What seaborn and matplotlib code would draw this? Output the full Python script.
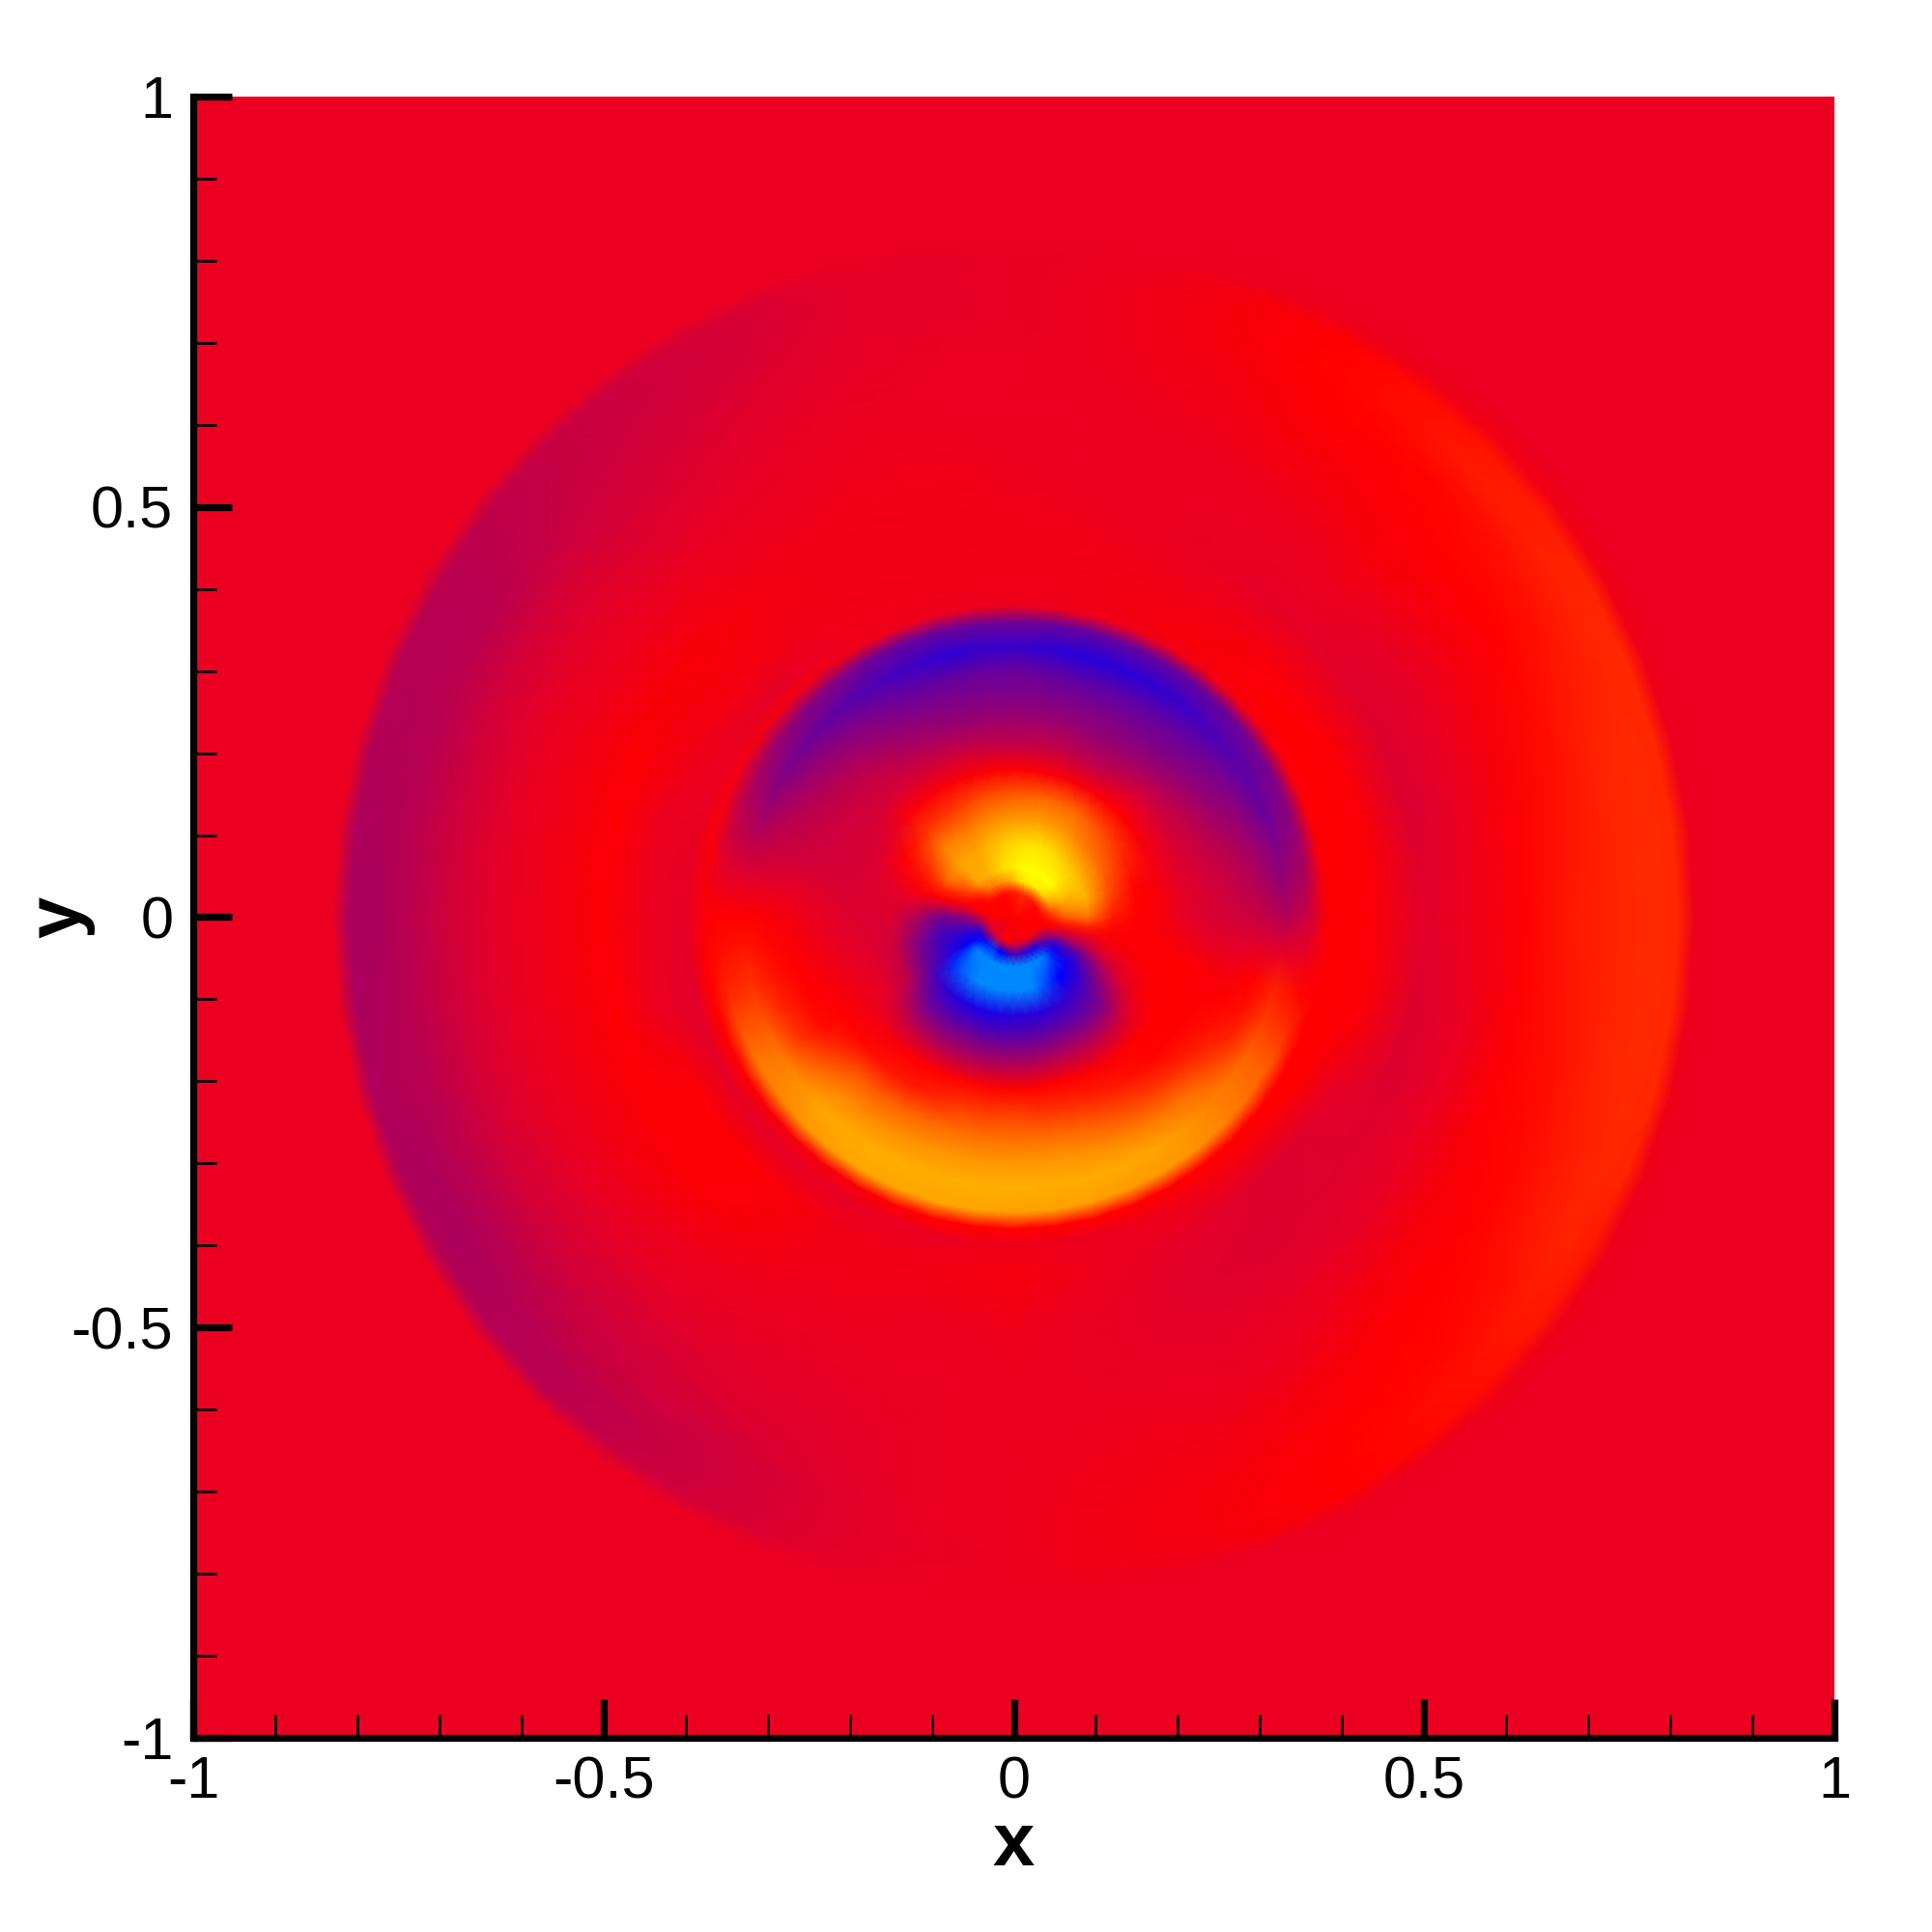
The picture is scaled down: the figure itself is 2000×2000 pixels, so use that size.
import matplotlib.pyplot as plt
import numpy as np
import seaborn as sns

# radii of the polar sampling, rows of every angle list below
radii = [0, .03, .06, .09, .12, .15, .18, .21, .24, .27, .30, .33, .36, .38, .40,
         .44, .50, .56, .62, .68, .74, .78, .81, .83, .86, 1.45]
angles = [0, 7.5, 15, 22.5, 30, 37.5, 45, 52.5, 60, 67.5, 75, 82.5,
          90, 97.5, 105, 112.5, 120, 127.5, 135, 142.5, 150, 157.5, 165, 172.5,
          180, 187.5, 195, 202.5, 210, 217.5, 225, 232.5, 240, 247.5, 255, 262.5,
          270, 277.5, 285, 292.5, 300, 307.5, 315, 322.5, 330, 337.5, 345, 352.5]

# field values, one list per angle
a000 = [0, 0, .7, .9, .2, 0, -.03, -.1, -.15, -.18, -.22, -.3, -.2, -.02, 0,
        -.02, -.12, -.06, -.01, .2, .3, .33, .3, -.07, -.08, -.08]
a007 = [0, .02, 1.0, 1.2, .4, .02, -.03, -.11, -.16, -.22, -.3, -.42, -.3, -.02, 0,
        -.02, -.13, -.07, -.01, .16, .3, .33, .3, -.07, -.08, -.08]
a015 = [0, .05, 1.2, 1.4, .6, .05, -.04, -.12, -.18, -.25, -.35, -.5, -.38, -.02, 0,
        -.02, -.15, -.08, -.02, .12, .28, .33, .3, -.07, -.08, -.08]
a022 = [0, .08, 1.5, 1.45, .72, .2, -.04, -.13, -.22, -.32, -.42, -.58, -.45, -.02, 0,
        -.02, -.14, -.09, -.03, .06, .22, .3, .3, -.06, -.08, -.08]
a030 = [0, .1, 1.7, 1.5, .85, .35, -.03, -.15, -.25, -.38, -.48, -.62, -.52, -.03, 0,
        -.02, -.13, -.1, -.04, 0, .15, .28, .28, -.05, -.08, -.08]
a037 = [0, .15, 1.9, 1.55, .92, .48, -.02, -.15, -.29, -.43, -.53, -.67, -.55, -.04, 0,
        -.03, -.12, -.09, -.04, 0, .1, .24, .22, -.05, -.08, -.08]
a045 = [0, .2, 2, 1.6, 1.0, .6, 0, -.15, -.33, -.48, -.58, -.72, -.58, -.04, -.01,
        -.03, -.1, -.07, -.03, -.01, .05, .2, .15, -.05, -.08, -.08]
a052 = [0, .25, 2, 1.68, 1.1, .7, -.01, -.2, -.37, -.5, -.6, -.78, -.6, -.05, -.02,
        -.04, -.1, -.08, -.05, -.02, .02, .1, .07, -.06, -.08, -.08]
a060 = [0, .3, 2, 1.75, 1.2, .8, -.03, -.25, -.4, -.5, -.62, -.82, -.6, -.05, -.03,
        -.05, -.09, -.08, -.06, -.03, 0, .02, 0, -.06, -.08, -.08]
a067 = [0, .32, 2, 1.78, 1.22, .8, -.02, -.24, -.4, -.5, -.63, -.84, -.6, -.06, -.04,
        -.05, -.08, -.08, -.07, -.05, -.03, -.02, -.03, -.07, -.08, -.08]
a075 = [0, .3, 2, 1.8, 1.25, .8, -.02, -.22, -.38, -.5, -.63, -.85, -.6, -.06, -.05,
        -.05, -.07, -.08, -.07, -.06, -.05, -.05, -.06, -.08, -.08, -.08]
a082 = [0, .25, 1.95, 1.75, 1.22, .75, -.01, -.23, -.38, -.5, -.6, -.82, -.58, -.07, -.06,
        -.05, -.06, -.08, -.08, -.07, -.07, -.07, -.08, -.08, -.08, -.08]
a090 = [0, .2, 1.85, 1.7, 1.2, .7, -.01, -.24, -.38, -.5, -.58, -.78, -.55, -.07, -.06,
        -.05, -.06, -.07, -.08, -.08, -.09, -.09, -.09, -.08, -.08, -.08]
a097 = [0, .15, 1.8, 1.6, 1.15, .65, -.01, -.22, -.38, -.5, -.58, -.8, -.57, -.07, -.06,
        -.05, -.05, -.06, -.08, -.08, -.1, -.1, -.1, -.08, -.08, -.08]
a105 = [0, .1, 1.7, 1.5, 1.1, .6, -.02, -.2, -.38, -.5, -.6, -.82, -.58, -.07, -.06,
        -.05, -.05, -.06, -.07, -.09, -.1, -.11, -.1, -.08, -.08, -.08]
a112 = [0, .05, 1.55, 1.4, 1.02, .52, -.02, -.19, -.36, -.48, -.6, -.76, -.58, -.06, -.06,
        -.05, -.05, -.06, -.08, -.1, -.13, -.15, -.14, -.08, -.08, -.08]
a120 = [0, .02, 1.4, 1.3, .95, .45, -.02, -.18, -.33, -.45, -.56, -.7, -.56, -.06, -.06,
        -.05, -.05, -.07, -.09, -.12, -.16, -.18, -.17, -.08, -.08, -.08]
a127 = [0, 0, 1.35, 1.3, 1.0, .42, -.02, -.17, -.27, -.4, -.5, -.65, -.5, -.06, -.08,
        -.05, -.04, -.07, -.1, -.14, -.18, -.2, -.2, -.08, -.08, -.08]
a135 = [0, 0, 1.3, 1.3, 1.0, .4, -.02, -.16, -.22, -.33, -.45, -.6, -.45, -.05, -.1,
        -.04, -.03, -.06, -.11, -.16, -.2, -.22, -.22, -.08, -.08, -.08]
a142 = [0, 0, .9, 1.1, .7, .2, -.08, -.17, -.21, -.29, -.4, -.54, -.4, -.05, -.09,
        -.04, -.02, -.06, -.1, -.16, -.24, -.25, -.25, -.08, -.08, -.08]
a150 = [0, 0, .5, .9, .35, .05, -.13, -.17, -.2, -.25, -.35, -.48, -.33, -.05, -.08,
        -.05, -.02, -.06, -.1, -.17, -.27, -.28, -.27, -.08, -.08, -.08]
a157 = [0, 0, .2, .4, .1, -.04, -.14, -.17, -.19, -.22, -.27, -.38, -.26, -.04, -.08,
        -.06, -.01, -.05, -.09, -.17, -.27, -.29, -.29, -.08, -.08, -.08]
a165 = [0, -.01, -.03, 0, -.03, -.1, -.14, -.16, -.17, -.18, -.2, -.24, -.18, -.03, -.09,
        -.08, -.01, -.05, -.09, -.18, -.28, -.3, -.3, -.08, -.08, -.08]
a172 = [0, 0, -.2, -.25, -.15, -.12, -.14, -.14, -.12, -.1, -.1, -.1, -.08, -.03, -.1,
        -.08, -.01, -.05, -.09, -.17, -.27, -.32, -.32, -.08, -.08, -.08]
a180 = [0, 0, -.45, -.55, -.3, -.14, -.14, -.12, -.08, -.04, -.02, 0, 0, -.03, -.1,
        -.08, -.01, -.05, -.09, -.17, -.27, -.33, -.33, -.08, -.08, -.08]
a187 = [0, -.05, -.6, -.65, -.4, -.17, -.13, -.1, -.06, -.02, .05, .2, .12, -.01, -.11,
        -.08, -.01, -.05, -.09, -.17, -.27, -.31, -.33, -.08, -.08, -.08]
a195 = [0, -.1, -.75, -.75, -.5, -.2, -.12, -.08, -.04, 0, .15, .4, .3, 0, -.12,
        -.08, -.01, -.05, -.09, -.17, -.27, -.3, -.32, -.08, -.08, -.08]
a202 = [0, -.1, -.9, -.78, -.55, -.22, -.11, -.06, -.02, .03, .28, .65, .65, 0, -.11,
        -.04, -.01, -.05, -.09, -.17, -.27, -.32, -.31, -.08, -.08, -.08]
a210 = [0, -.1, -1.0, -.85, -.6, -.25, -.1, -.05, 0, .1, .42, .92, .95, -.01, -.1,
        -.01, -.01, -.05, -.1, -.17, -.28, -.33, -.3, -.08, -.08, -.08]
a217 = [0, -.12, -1.2, -1.1, -.72, -.4, -.17, -.04, .05, .38, .78, 1.12, 1.05, -.02, -.1,
        -.01, -.01, -.05, -.1, -.17, -.25, -.3, -.29, -.08, -.08, -.08]
a225 = [0, -.15, -1.3, -1.2, -.8, -.55, -.25, -.03, .12, .68, 1.05, 1.3, 1.18, -.03, -.1,
        -.01, -.02, -.06, -.1, -.16, -.22, -.27, -.27, -.08, -.08, -.08]
a232 = [0, -.1, -1.3, -1.25, -.85, -.58, -.28, -.01, .17, .72, 1.08, 1.35, 1.25, -.03, -.09,
        -.03, -.04, -.07, -.1, -.15, -.2, -.24, -.22, -.08, -.08, -.08]
a240 = [0, -.05, -1.3, -1.3, -.88, -.58, -.3, 0, .2, .78, 1.12, 1.36, 1.3, -.02, -.09,
        -.05, -.06, -.08, -.1, -.13, -.19, -.2, -.18, -.08, -.08, -.08]
a247 = [0, -.02, -1.3, -1.3, -.88, -.58, -.3, .02, .32, .82, 1.15, 1.36, 1.3, -.01, -.08,
        -.05, -.06, -.08, -.1, -.12, -.15, -.15, -.14, -.08, -.08, -.08]
a255 = [0, 0, -1.3, -1.3, -.9, -.6, -.3, .05, .45, .87, 1.18, 1.36, 1.3, 0, -.08,
        -.05, -.07, -.08, -.09, -.1, -.11, -.11, -.1, -.08, -.08, -.08]
a262 = [0, -.03, -1.3, -1.3, -.88, -.6, -.3, .03, .47, .87, 1.18, 1.37, 1.28, 0, -.07,
        -.04, -.07, -.08, -.08, -.08, -.08, -.09, -.08, -.08, -.08, -.08]
a270 = [0, -.1, -1.3, -1.3, -.85, -.6, -.3, .02, .5, .87, 1.18, 1.37, 1.25, 0, -.06,
        -.03, -.06, -.07, -.07, -.07, -.07, -.07, -.07, -.08, -.08, -.08]
a277 = [0, -.08, -1.3, -1.3, -.85, -.6, -.3, .02, .42, .85, 1.18, 1.36, 1.25, 0, -.07,
        -.05, -.08, -.08, -.07, -.06, -.05, -.05, -.06, -.08, -.08, -.08]
a285 = [0, -.05, -1.3, -1.3, -.85, -.58, -.28, .02, .35, .82, 1.15, 1.35, 1.25, 0, -.07,
        -.07, -.09, -.09, -.07, -.05, -.04, -.04, -.06, -.08, -.08, -.08]
a292 = [0, -.03, -1.3, -1.2, -.82, -.57, -.27, 0, .28, .7, 1.08, 1.33, 1.22, 0, -.06,
        -.09, -.11, -.1, -.08, -.05, -.03, -.02, -.03, -.08, -.08, -.08]
a300 = [0, -.02, -1.3, -1.1, -.8, -.57, -.27, -.02, .2, .57, .98, 1.3, 1.2, 0, -.05,
        -.1, -.13, -.1, -.08, -.04, -.01, 0, 0, -.07, -.08, -.08]
a307 = [0, -.02, -1.25, -1.0, -.75, -.55, -.25, -.01, .1, .44, .92, 1.2, 1.15, 0, -.04,
        -.12, -.14, -.1, -.06, -.02, .01, .06, .05, -.07, -.08, -.08]
a315 = [0, -.02, -1.1, -.95, -.7, -.5, -.2, 0, .02, .32, .82, 1.05, 1.03, 0, -.03,
        -.14, -.13, -.1, -.04, 0, .03, .12, .1, -.06, -.08, -.08]
a322 = [0, -.01, -.9, -.85, -.55, -.3, -.08, 0, .01, .2, .55, .93, .88, 0, -.02,
        -.13, -.13, -.09, -.03, .01, .1, .2, .16, -.06, -.08, -.08]
a330 = [0, 0, -.7, -.65, -.35, -.12, -.02, 0, 0, .1, .28, .75, .7, 0, 0,
        -.1, -.13, -.08, -.02, .03, .2, .28, .2, -.06, -.08, -.08]
a337 = [0, 0, -.35, -.3, -.12, -.05, -.01, 0, -.01, .02, .1, .48, .35, 0, 0,
        -.05, -.14, -.08, -.01, .07, .24, .31, .27, -.06, -.08, -.08]
a345 = [0, 0, -.1, -.1, -.03, -.02, 0, 0, -.02, -.04, 0, .25, .05, -.01, 0,
        -.02, -.14, -.08, -.01, .12, .28, .33, .3, -.06, -.08, -.08]
a352 = [0, 0, .2, .25, .03, -.01, -.02, -.05, -.09, -.1, -.1, -.1, -.08, -.02, 0,
        -.02, -.13, -.07, -.01, .16, .3, .33, .3, -.07, -.08, -.08]

# extra ring at r = 0.045, same order as angles: the red channel through the centre
ring_r = 0.045
ring_045 = [.3, .5, .9, 1.2, 1.5, 1.7, 1.8, 1.85, 1.9, 1.9, 1.8, 1.7,
            1.5, 1.3, 1.2, 1.1, 1.0, .9, .7, .4, .1, 0, -.02, -.05,
            -.3, -.4, -.7, -.8, -.9, -.95, -1.05, -1.1, -1.1, -1.0, -.95, -.8,
            -.7, -.75, -.8, -.85, -.9, -.85, -.7, -.55, -.4, -.2, -.02, .05]

major_ticks = [-1, -0.5, 0, 0.5, 1]
major_labels = ["-1", "-0.5", "0", "0.5", "1"]
minor_ticks = [-.9, -.8, -.7, -.6, -.4, -.3, -.2, -.1, .1, .2, .3, .4, .6, .7, .8, .9]

sns.set_theme(style="ticks")
plt.rcParams["font.family"] = ["Liberation Sans", "DejaVu Sans"]

# v = -1.3 light blue, -1 blue, -0.08 background crimson, 0 red, 2 yellow
vmin, vmax = -1.3, 2.0
stops = [(-1.3, "#0088ff"), (-1.0, "#0000ff"), (-0.08, "#eb0021"), (0.0, "#ff0000"), (2.0, "#ffff00")]
cmap = sns.blend_palette([c for _, c in stops], n_colors=2, as_cmap=True)
cmap = cmap.from_list("field", [((v - vmin) / (vmax - vmin), c) for v, c in stops], N=1024)

field = np.array(
    [a000, a007, a015, a022, a030, a037, a045, a052, a060, a067, a075, a082,
     a090, a097, a105, a112, a120, a127, a135, a142, a150, a157, a165, a172,
     a180, a187, a195, a202, a210, a217, a225, a232, a240, a247, a255, a262,
     a270, a277, a285, a292, a300, a307, a315, a322, a330, a337, a345, a352, a000]
)
field = np.insert(field, 2, ring_045 + ring_045[:1], axis=1)
radii_all = np.insert(radii, 2, ring_r)
theta = np.deg2rad(angles + [360])
rr, tt = np.meshgrid(radii_all, theta)

fig = plt.figure(figsize=(10, 10), dpi=200)
ax = fig.add_axes([200 / 2000, 1 - 1799 / 2000, 1699 / 2000, 1699 / 2000])
ax.pcolormesh(
    rr * np.cos(tt), rr * np.sin(tt), field,
    shading="gouraud", cmap=cmap, vmin=vmin, vmax=vmax,
)
ax.set_xlim(-1, 1)
ax.set_ylim(-1, 1)
ax.set_aspect("equal")
ax.set_axisbelow(False)  # ticks sit on top of the field

for side in ["top", "right"]:
    ax.spines[side].set_visible(False)
for side in ["left", "bottom"]:
    ax.spines[side].set_linewidth(2.6)
    ax.spines[side].set_color("black")

ax.set_xticks(major_ticks, major_labels)
ax.set_yticks(major_ticks, major_labels)
ax.set_xticks(minor_ticks, minor=True)
ax.set_yticks(minor_ticks, minor=True)
ax.tick_params(which="major", direction="in", length=14.5, width=2.6, labelsize=22,
               color="black", labelcolor="black")
ax.tick_params(axis="x", which="major", pad=6.5)
ax.tick_params(axis="y", which="major", pad=7.5)
ax.tick_params(which="minor", direction="in", length=8.5, width=1.0, color="black")
for t in ax.xaxis.get_major_ticks() + ax.yaxis.get_major_ticks():
    t.tick1line.set_clip_on(False)

ax.set_xlabel("x", fontsize=28, fontweight="bold", color="black", labelpad=0)
ax.set_ylabel("y", fontsize=28, fontweight="bold", color="black")
ax.yaxis.set_label_coords(-0.06, 0.5)

fig.savefig("out.png", dpi=200, facecolor="white")
